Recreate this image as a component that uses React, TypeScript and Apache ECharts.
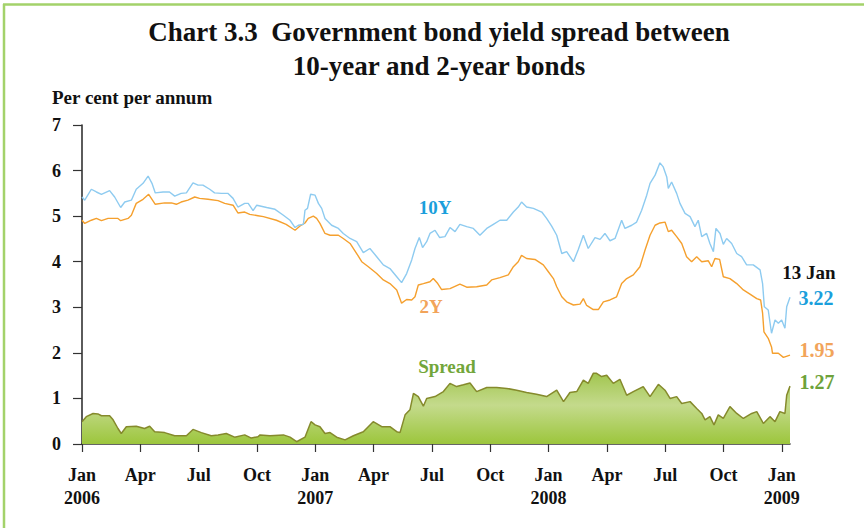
import React, { useEffect, useRef } from "react";
import * as echarts from "echarts";

// x = months since Jan 2006, y = per cent per annum
const tenYear: [number, number][] = [
  [0, 5.42], [0.14, 5.35], [0.48, 5.59], [0.74, 5.53], [1.0, 5.48], [1.42, 5.56], [1.68, 5.42], [1.99, 5.19],
  [2.2, 5.31], [2.54, 5.35], [2.79, 5.59], [3.14, 5.72], [3.4, 5.88], [3.6, 5.72], [3.77, 5.51], [4.17, 5.53],
  [4.5, 5.53], [4.77, 5.44], [5.1, 5.5], [5.37, 5.51], [5.71, 5.73], [5.97, 5.68], [6.22, 5.68], [6.57, 5.59],
  [6.82, 5.51], [7.17, 5.5], [7.5, 5.5], [7.77, 5.39], [8.02, 5.2], [8.37, 5.28], [8.55, 5.28], [8.8, 5.12],
  [8.99, 5.24], [9.5, 5.19], [9.93, 5.15], [10.36, 5.02], [10.7, 4.91], [10.96, 4.75], [11.13, 4.8], [11.39, 4.82],
  [11.47, 5.13], [11.6, 5.17], [11.76, 5.48], [11.99, 5.46], [12.16, 5.28], [12.33, 5.17], [12.5, 4.95], [12.84, 4.8],
  [13.19, 4.73], [13.44, 4.62], [13.79, 4.51], [14.13, 4.44], [14.47, 4.2], [14.81, 4.29], [15.16, 4.11], [15.5, 3.93],
  [15.84, 3.85], [16.19, 3.67], [16.44, 3.54], [16.7, 3.74], [16.96, 4.04], [17.13, 4.29], [17.35, 4.53], [17.52, 4.31],
  [17.73, 4.44], [17.9, 4.62], [18.16, 4.69], [18.4, 4.53], [18.67, 4.55], [18.93, 4.75], [19.19, 4.66], [19.44, 4.82],
  [19.79, 4.77], [20.13, 4.73], [20.47, 4.58], [20.82, 4.73], [21.16, 4.82], [21.5, 4.91], [21.85, 4.91], [22.19, 5.09],
  [22.44, 5.2], [22.61, 5.31], [22.87, 5.2], [23.22, 5.17], [23.65, 5.09], [23.9, 4.95], [24.16, 4.78], [24.42, 4.58],
  [24.68, 4.18], [24.93, 4.22], [25.28, 4.0], [25.53, 4.27], [25.79, 4.58], [26.04, 4.29], [26.39, 4.53], [26.65, 4.49],
  [26.9, 4.62], [27.16, 4.46], [27.42, 4.51], [27.76, 4.91], [27.93, 4.73], [28.28, 4.8], [28.53, 4.87], [28.79, 5.13],
  [29.05, 5.46], [29.22, 5.72], [29.48, 5.9], [29.73, 6.17], [29.9, 6.08], [30.08, 5.86], [30.16, 5.61], [30.33, 5.75],
  [30.59, 5.5], [30.76, 5.28], [31.02, 5.06], [31.28, 4.99], [31.53, 4.77], [31.7, 4.91], [31.88, 4.55], [32.13, 4.62],
  [32.3, 4.4], [32.48, 4.22], [32.61, 4.73], [32.82, 4.62], [32.99, 4.38], [33.16, 4.51], [33.42, 4.4], [33.68, 4.18],
  [33.93, 4.11], [34.19, 3.93], [34.53, 3.93], [34.88, 3.82], [35.01, 3.52], [35.1, 3.01], [35.3, 2.94], [35.47, 2.43],
  [35.65, 2.72], [35.82, 2.65], [35.99, 2.72], [36.16, 2.54], [36.25, 3.01], [36.42, 3.22],
];

const twoYear: [number, number][] = [
  [0, 4.91], [0.14, 4.84], [0.48, 4.91], [0.74, 4.95], [1.0, 4.9], [1.34, 4.95], [1.85, 4.95], [1.99, 4.9],
  [2.37, 4.95], [2.54, 5.02], [2.79, 5.28], [3.14, 5.37], [3.43, 5.48], [3.6, 5.37], [3.77, 5.26], [4.25, 5.29],
  [4.6, 5.29], [4.85, 5.26], [5.1, 5.31], [5.45, 5.35], [5.8, 5.42], [6.05, 5.39], [6.48, 5.37], [7.0, 5.34],
  [7.34, 5.28], [7.77, 5.24], [8.02, 5.07], [8.37, 5.09], [8.63, 5.04], [9.05, 5.01], [9.33, 4.99], [10.0, 4.91],
  [10.5, 4.82], [10.96, 4.69], [11.2, 4.78], [11.47, 4.85], [11.64, 4.95], [11.9, 5.0], [12.07, 4.95], [12.24, 4.84],
  [12.5, 4.62], [12.76, 4.58], [13.19, 4.58], [13.44, 4.51], [13.79, 4.4], [14.13, 4.18], [14.39, 4.0], [14.73, 3.89],
  [15.16, 3.74], [15.5, 3.6], [15.84, 3.52], [16.19, 3.38], [16.44, 3.09], [16.7, 3.17], [16.96, 3.16], [17.13, 3.23],
  [17.3, 3.49], [17.56, 3.52], [17.9, 3.56], [18.07, 3.63], [18.3, 3.52], [18.5, 3.39], [18.93, 3.41], [19.44, 3.51],
  [19.79, 3.44], [20.3, 3.45], [20.82, 3.49], [21.07, 3.6], [21.5, 3.65], [21.93, 3.71], [22.19, 3.89], [22.44, 4.0],
  [22.61, 4.14], [22.87, 4.07], [23.3, 4.05], [23.73, 3.93], [23.99, 3.78], [24.25, 3.63], [24.42, 3.45], [24.68, 3.23],
  [24.93, 3.12], [25.28, 3.05], [25.62, 3.07], [25.79, 3.19], [25.96, 3.04], [26.3, 2.95], [26.56, 2.95], [26.82, 3.12],
  [27.16, 3.16], [27.5, 3.23], [27.76, 3.52], [28.02, 3.63], [28.36, 3.71], [28.7, 3.89], [28.96, 4.25], [29.22, 4.58],
  [29.48, 4.8], [29.73, 4.85], [29.99, 4.87], [30.16, 4.66], [30.33, 4.69], [30.59, 4.55], [30.85, 4.4], [31.1, 4.11],
  [31.36, 4.0], [31.62, 4.11], [31.88, 4.0], [32.22, 4.02], [32.39, 3.89], [32.56, 4.07], [32.8, 4.05], [32.99, 3.67],
  [33.33, 3.63], [33.68, 3.52], [34.02, 3.38], [34.36, 3.29], [34.71, 3.19], [34.91, 3.16], [35.01, 2.87], [35.08, 2.46],
  [35.3, 2.32], [35.47, 2.13], [35.52, 1.99], [35.82, 1.99], [36.08, 1.9], [36.42, 1.95],
];

const spread: [number, number][] = [
  [0, 0.49], [0.22, 0.6], [0.57, 0.67], [0.82, 0.66], [1.0, 0.62], [1.42, 0.62], [1.6, 0.53], [1.85, 0.34],
  [2.02, 0.23], [2.28, 0.38], [2.79, 0.39], [3.22, 0.34], [3.48, 0.39], [3.74, 0.27], [4.25, 0.25], [4.77, 0.18],
  [5.37, 0.18], [5.71, 0.32], [6.14, 0.25], [6.65, 0.18], [7.0, 0.2], [7.42, 0.23], [7.85, 0.15], [8.37, 0.2],
  [8.71, 0.13], [9.05, 0.16], [9.16, 0.2], [9.67, 0.18], [10.36, 0.2], [10.7, 0.15], [11.04, 0.05], [11.47, 0.15],
  [11.78, 0.49], [11.99, 0.42], [12.24, 0.38], [12.5, 0.23], [12.76, 0.25], [13.1, 0.15], [13.53, 0.09], [13.96, 0.18],
  [14.47, 0.27], [14.98, 0.49], [15.42, 0.38], [15.84, 0.38], [16.19, 0.27], [16.36, 0.25], [16.62, 0.64], [16.87, 0.75],
  [17.05, 1.11], [17.3, 1.04], [17.56, 0.83], [17.73, 1.0], [18.16, 1.04], [18.59, 1.15], [18.93, 1.33], [19.27, 1.26],
  [19.62, 1.3], [19.96, 1.34], [20.3, 1.15], [20.82, 1.24], [21.33, 1.24], [21.85, 1.22], [22.36, 1.18], [22.87, 1.13],
  [23.38, 1.09], [23.9, 1.04], [24.42, 1.18], [24.77, 0.93], [25.1, 1.13], [25.45, 1.15], [25.79, 1.4], [26.04, 1.33],
  [26.3, 1.55], [26.47, 1.55], [26.73, 1.48], [26.99, 1.51], [27.33, 1.33], [27.67, 1.42], [28.02, 1.07], [28.36, 1.15],
  [28.87, 1.26], [29.22, 1.04], [29.65, 1.31], [29.99, 1.18], [30.25, 1.0], [30.59, 1.04], [30.85, 0.89], [31.28, 0.93],
  [31.62, 0.78], [31.88, 0.67], [32.05, 0.53], [32.3, 0.6], [32.51, 0.42], [32.73, 0.64], [32.99, 0.56], [33.33, 0.82],
  [33.68, 0.67], [34.02, 0.56], [34.45, 0.67], [34.71, 0.71], [35.05, 0.45], [35.39, 0.6], [35.65, 0.49], [35.9, 0.71],
  [36.16, 0.67], [36.25, 1.07], [36.42, 1.27],
];

const xTickValues = [0, 3, 6, 9, 12, 15, 18, 21, 24, 27, 30, 33, 36];
const monthNames = ["Jan", "Apr", "Jul", "Oct"];
const startYear = 2006;
const yTicks = [0, 1, 2, 3, 4, 5, 6, 7];

const titleLines = ["Chart 3.3  Government bond yield spread between", "10-year and 2-year bonds"];
const unitLabel = "Per cent per annum";
const latestDate = "13 Jan";
const latest10Y = "3.22";
const latest2Y = "1.95";
const latestSpread = "1.27";

const FONT = "'Liberation Serif', 'Times New Roman', serif";

export default function App() {
  const ref = useRef<HTMLDivElement>(null);
  useEffect(() => {
    if (!ref.current) return;
    const chart = echarts.init(ref.current, undefined, { renderer: "svg" });
    const txt = (text: string, x: number, y: number, color: string, size: number, align = "center") => ({
      type: "text",
      x,
      y,
      style: {
        text,
        fill: color,
        font: `bold ${size}px ${FONT}`,
        textAlign: align,
        textVerticalAlign: "middle",
      },
    });
    chart.setOption({
      animation: false,
      backgroundColor: "#ffffff",
      grid: { left: 82, right: 74, top: 125, bottom: 84 },
      xAxis: {
        type: "value",
        min: 0,
        max: 36.42,
        splitLine: { show: false },
        axisLine: { show: true, onZero: false, lineStyle: { color: "#333333", width: 1.6 } },
        axisTick: {
          show: true,
          length: 8,
          customValues: xTickValues,
          lineStyle: { color: "#333333", width: 1.2 },
        },
        axisLabel: {
          customValues: xTickValues,
          margin: 19,
          color: "#111111",
          fontFamily: FONT,
          fontWeight: "bold",
          fontSize: 18,
          lineHeight: 23,
          formatter: (v: number) => {
            const i = Math.round(v / 3);
            const name = monthNames[i % 4];
            return i % 4 === 0 ? `${name}\n${startYear + i / 4}` : name;
          },
        },
      },
      yAxis: {
        type: "value",
        min: 0,
        max: 7,
        interval: 1,
        splitLine: { show: false },
        axisLine: { show: true, lineStyle: { color: "#333333", width: 1.6 } },
        axisTick: { show: true, length: 9, lineStyle: { color: "#333333", width: 1.2 } },
        axisLabel: {
          margin: 21,
          color: "#111111",
          fontFamily: FONT,
          fontWeight: "bold",
          fontSize: 18,
          formatter: (v: number) => (yTicks.includes(v) ? String(v) : ""),
        },
      },
      series: [
        {
          name: "Spread",
          type: "line",
          data: spread,
          showSymbol: false,
          lineStyle: { color: "#858a2c", width: 1.5 },
          areaStyle: {
            color: new echarts.graphic.LinearGradient(0, 0, 0, 1, [
              { offset: 0, color: "#a2c650" },
              { offset: 0.45, color: "#c4da8c" },
              { offset: 1, color: "#9cc63c" },
            ]),
            opacity: 1,
          },
          z: 2,
        },
        {
          name: "2Y",
          type: "line",
          data: twoYear,
          showSymbol: false,
          lineStyle: { color: "#f5a02e", width: 1.4 },
          z: 3,
        },
        {
          name: "10Y",
          type: "line",
          data: tenYear,
          showSymbol: false,
          lineStyle: { color: "#8ecbf0", width: 1.4 },
          z: 4,
        },
      ],
      graphic: [
        { type: "line", shape: { x1: 3, y1: 4.5, x2: 864, y2: 4.5 }, style: { stroke: "#a3d26a", lineWidth: 2.5 } },
        { type: "line", shape: { x1: 4, y1: 4, x2: 4, y2: 528 }, style: { stroke: "#a3d26a", lineWidth: 2.5 } },
        txt(titleLines[0], 439, 32, "#111111", 27),
        txt(titleLines[1], 439, 66, "#111111", 27),
        txt(unitLabel, 52, 97, "#111111", 19, "left"),
        txt("10Y", 435, 207, "#1a9fdc", 19),
        txt("2Y", 431, 306, "#f2a45a", 19),
        txt("Spread", 447, 366, "#72a63a", 19),
        txt(latestDate, 809, 272, "#111111", 19),
        txt(latest10Y, 816, 298, "#1a9fdc", 20),
        txt(latest2Y, 817, 350, "#f2a45a", 20),
        txt(latestSpread, 817, 382, "#6ea23a", 20),
      ],
    });
    return () => chart.dispose();
  }, []);
  return (
    <div
      ref={ref}
      style={{ position: "fixed", left: 0, top: 0, width: 864, height: 528 }}
    />
  );
}
